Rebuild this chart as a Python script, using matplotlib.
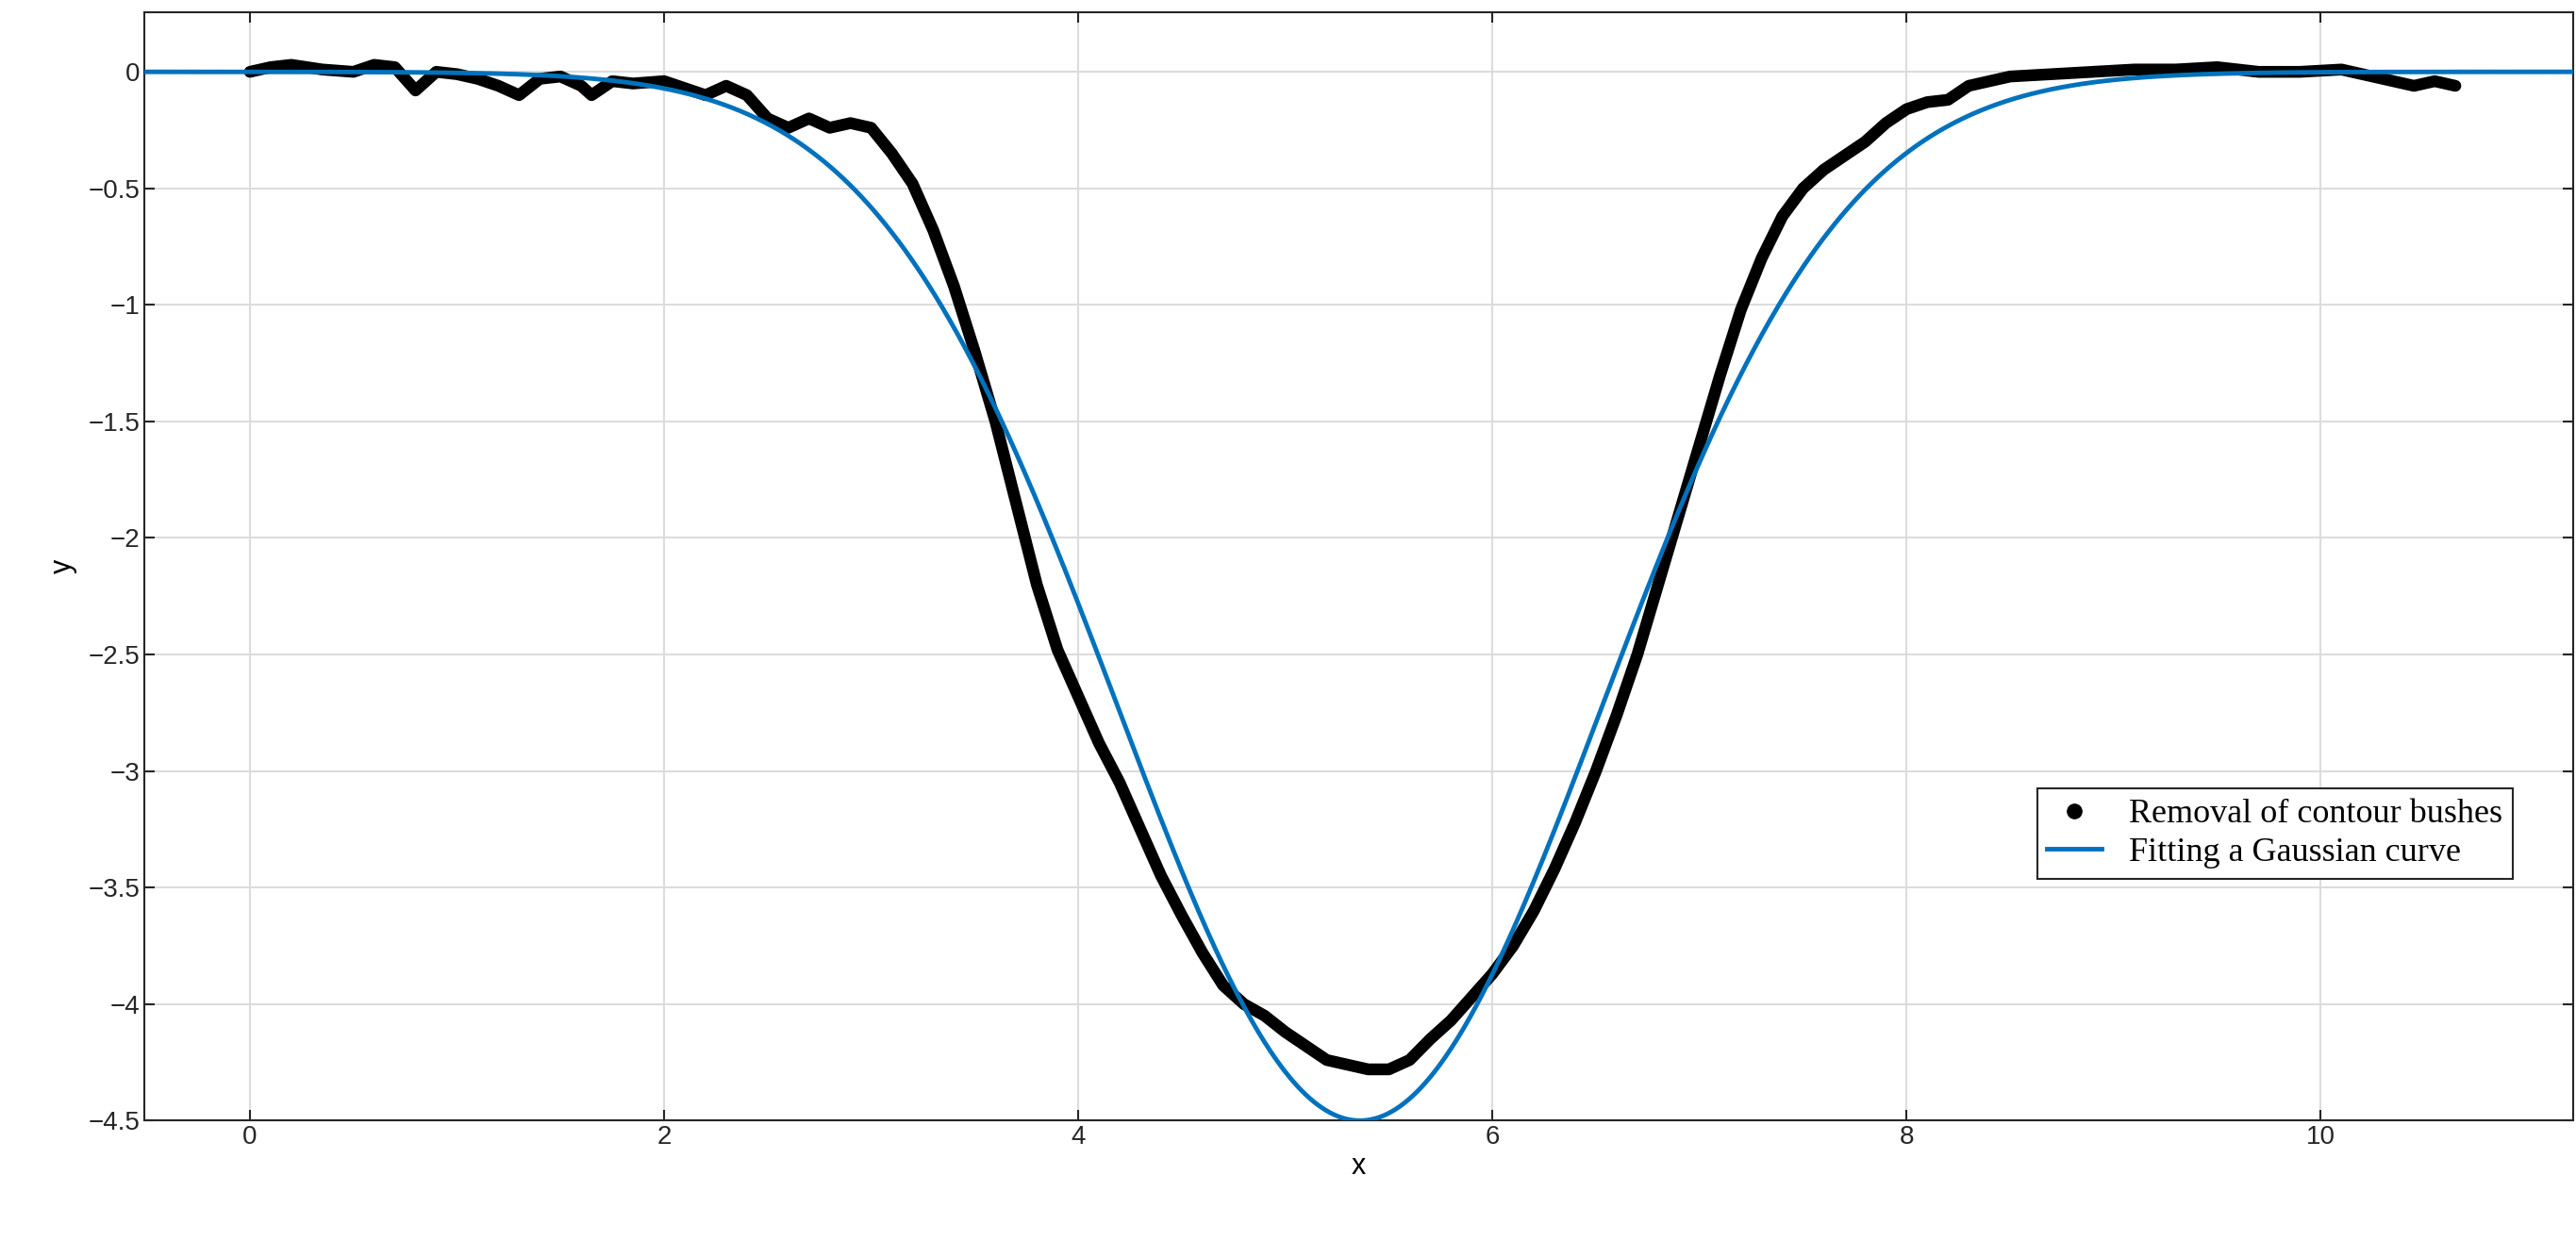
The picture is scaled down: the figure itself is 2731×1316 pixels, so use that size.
import numpy as np
import matplotlib
matplotlib.use("Agg")
import matplotlib.pyplot as plt

x_data = [0, 0.1, 0.2, 0.35, 0.5, 0.6, 0.7, 0.8, 0.9, 1.0, 1.1, 1.2, 1.3, 1.4, 1.5, 1.6, 1.65, 1.75, 1.85, 2.0, 2.1, 2.2, 2.3, 2.4, 2.5, 2.6, 2.7, 2.8, 2.9, 3.0,
          3.1, 3.2, 3.3, 3.4, 3.5, 3.6, 3.7, 3.8, 3.9, 4.0, 4.1, 4.2, 4.3, 4.4, 4.5, 4.6, 4.7, 4.8, 4.9, 5.0, 5.1, 5.2, 5.3, 5.4, 5.5, 5.6, 5.7, 5.8, 5.9, 6.0,
          6.1, 6.2, 6.3, 6.4, 6.5, 6.6, 6.7, 6.8, 6.9, 7.0, 7.1, 7.2, 7.3, 7.4, 7.5, 7.6, 7.7, 7.8, 7.9, 8.0, 8.1, 8.2, 8.3, 8.4, 8.5, 8.7, 8.9, 9.1, 9.3, 9.5, 9.7, 9.9, 10.1, 10.3, 10.45, 10.55, 10.65]
y_data = [0, 0.02, 0.03, 0.01, 0.0, 0.03, 0.02, -0.08, 0.0, -0.01, -0.03, -0.06, -0.1, -0.03, -0.02, -0.06, -0.1, -0.04, -0.05, -0.04, -0.07, -0.1, -0.06, -0.1, -0.2, -0.24, -0.2, -0.24, -0.22, -0.24,
          -0.35, -0.48, -0.68, -0.92, -1.2, -1.5, -1.85, -2.2, -2.48, -2.68, -2.88, -3.05, -3.25, -3.45, -3.62, -3.78, -3.92, -4.0, -4.05, -4.12, -4.18, -4.24, -4.26, -4.28, -4.28, -4.24, -4.15, -4.07, -3.97, -3.87,
          -3.75, -3.6, -3.42, -3.22, -3.0, -2.76, -2.5, -2.2, -1.9, -1.6, -1.3, -1.02, -0.8, -0.62, -0.5, -0.42, -0.36, -0.3, -0.22, -0.16, -0.13, -0.12, -0.06, -0.04, -0.02, -0.01, 0.0, 0.01, 0.01, 0.02, 0.0, 0.0, 0.01, -0.03, -0.06, -0.04, -0.06]

fit_amplitude = -4.5
fit_center = 5.36
fit_width = 1.65

fig = plt.figure(figsize=(27.31, 13.16), dpi=100)
ax = fig.add_axes([0.056, 0.097, 0.943, 0.893])

xf = np.linspace(-0.6, 11.3, 1200)
yf = fit_amplitude * np.exp(-((xf - fit_center) / fit_width) ** 2)

ax.plot(x_data, y_data, color='black', lw=9, solid_joinstyle='round', solid_capstyle='round', zorder=3)
ax.plot([], [], 'k.', markersize=22, label='Removal of contour bushes')
ax.plot(xf, yf, color='#0072BD', lw=3.5, zorder=4, label='Fitting a Gaussian curve')

ax.set_xlim(-0.51, 11.22)
ax.set_ylim(-4.5, 0.255)
ax.set_xticks([0, 2, 4, 6, 8, 10])
ax.set_yticks([0, -0.5, -1, -1.5, -2, -2.5, -3, -3.5, -4, -4.5])
ax.set_yticklabels(['0', '\u22120.5', '\u22121', '\u22121.5', '\u22122', '\u22122.5', '\u22123', '\u22123.5', '\u22124', '\u22124.5'])
ax.grid(True, color='#dcdcdc', lw=1.5)
ax.set_axisbelow(True)
for s in ax.spines.values():
    s.set_color('#262626'); s.set_linewidth(1.5)
ax.tick_params(labelsize=20, colors='#262626', direction='in', length=8, width=1.5, top=True, right=True)
for t in ax.get_xticklabels() + ax.get_yticklabels():
    t.set_fontfamily('Liberation Sans')
ax.set_xlabel('x', fontsize=22, fontfamily='Liberation Sans', labelpad=2)
ax.set_ylabel('y', fontsize=22, fontfamily='Liberation Sans', labelpad=8)

leg = ax.legend(loc='upper right', bbox_to_anchor=(0.982, 0.315), prop={'family': 'Liberation Serif', 'size': 26},
                fancybox=False, framealpha=1, edgecolor='#262626', handlelength=1.6, borderpad=0.3, labelspacing=0.2)
leg.get_frame().set_linewidth(1.5)

fig.savefig('out.png', dpi=100)
